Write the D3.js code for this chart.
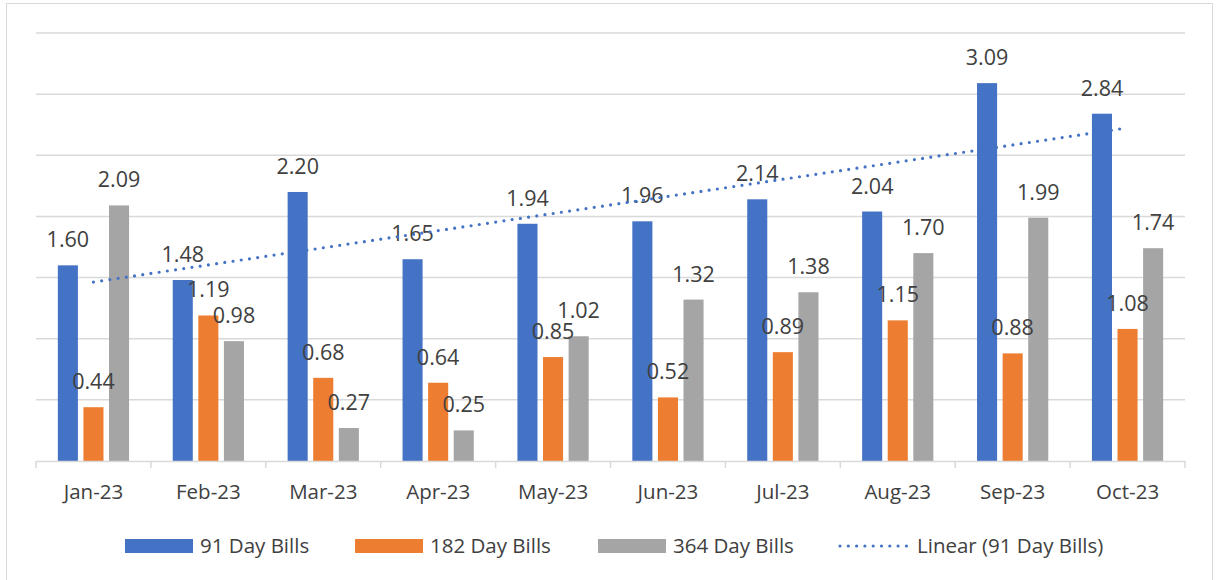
<!DOCTYPE html>
<html>
<head>
<meta charset="utf-8">
<script src="https://cdn.jsdelivr.net/npm/d3@7"></script>
<style>
	body{ margin:0; background:#fff; }
	text{ font-family:"Open Sans", sans-serif; fill:#404040; }
</style>
</head>
<body>
<div id="chart"></div>
<script>

const months = ["Jan-23","Feb-23","Mar-23","Apr-23","May-23","Jun-23","Jul-23","Aug-23","Sep-23","Oct-23"];
const bills91 = [1.60, 1.48, 2.20, 1.65, 1.94, 1.96, 2.14, 2.04, 3.09, 2.84];
const bills182 = [0.44, 1.19, 0.68, 0.64, 0.85, 0.52, 0.89, 1.15, 0.88, 1.08];
const bills364 = [2.09, 0.98, 0.27, 0.25, 1.02, 1.32, 1.38, 1.70, 1.99, 1.74];
const seriesNames = ["91 Day Bills", "182 Day Bills", "364 Day Bills"];
const yTicks = [0, 0.5, 1, 1.5, 2, 2.5, 3, 3.5];

const colors = ["#4472C4", "#ED7D31", "#A5A5A5"];
const W = 1219, H = 580;

const svg = d3.select("#chart")
		.append("svg")
		.attr("width", W)
		.attr("height", H);

// chart frame
svg.append("rect")
	.attr("x", 6.5).attr("y", 3.5)
	.attr("width", 1206).attr("height", 600)
	.attr("fill", "none")
	.attr("stroke", "#d9d9d9");

const x0 = d3.scaleBand()
		.domain(months)
		.range([36, 1185]);

const groupW = x0.bandwidth() * 0.62;
const x1 = d3.scaleBand()
		.domain(seriesNames)
		.range([(x0.bandwidth() - groupW) / 2, (x0.bandwidth() + groupW) / 2])
		.paddingInner(0.216);

const y = d3.scaleLinear()
		.domain([0, 3.5])
		.range([461, 33]);

// grid
svg.append("g")
	.selectAll("line")
	.data(yTicks.slice(1))
	.join("line")
		.attr("x1", 36).attr("x2", 1185)
		.attr("y1", d => y(d)).attr("y2", d => y(d))
		.attr("stroke", "#d9d9d9")
		.attr("stroke-width", 1.5);

const rows = months.map((m, i) => ({
	month: m,
	values: [bills91[i], bills182[i], bills364[i]]
}));

const groups = svg.append("g")
	.selectAll("g")
	.data(rows)
	.join("g")
		.attr("transform", d => "translate(" + x0(d.month) + ",0)");

groups.selectAll("rect")
	.data(d => d.values.map((v, k) => ({ key: seriesNames[k], v: v, k: k })))
	.join("rect")
		.attr("x", d => x1(d.key))
		.attr("y", d => y(d.v))
		.attr("width", x1.bandwidth())
		.attr("height", d => y(0) - y(d.v))
		.attr("fill", d => colors[d.k]);

// x axis
const xAxis = svg.append("g")
	.attr("transform", "translate(0," + y(0) + ")")
	.call(d3.axisBottom(x0).tickSize(0).tickPadding(23));
xAxis.select(".domain").attr("stroke", "#d9d9d9").attr("stroke-width", 1.5);
xAxis.selectAll("text")
	.style("font-size", "20.5px")
	.style("font-family", "'Open Sans', sans-serif")
	.attr("fill", "#404040");

const bounds = months.map(m => x0(m)).concat([x0.range()[1]]);
xAxis.selectAll(".sep")
	.data(bounds)
	.join("line")
		.attr("class", "sep")
		.attr("x1", d => d).attr("x2", d => d)
		.attr("y1", 0).attr("y2", 7)
		.attr("stroke", "#d9d9d9")
		.attr("stroke-width", 1.5);

// linear trend for 91 day bills
const n = bills91.length;
const xs = d3.range(1, n + 1);
const mx = d3.mean(xs), my = d3.mean(bills91);
const slope = d3.sum(xs, (xv, i) => (xv - mx) * (bills91[i] - my)) / d3.sum(xs, xv => (xv - mx) * (xv - mx));
const intercept = my - slope * mx;
const trendPts = [1, n].map(xv => [x0(months[xv - 1]) + x0.bandwidth() / 2, y(intercept + slope * xv)]);

svg.append("path")
	.attr("d", d3.line()(trendPts))
	.attr("fill", "none")
	.attr("stroke", "#4472C4")
	.attr("stroke-width", 3.2)
	.attr("stroke-linecap", "round")
	.attr("stroke-dasharray", "0 8.3");

// data labels
groups.selectAll("text.lbl")
	.data(d => d.values.map((v, k) => ({ key: seriesNames[k], v: v })))
	.join("text")
		.attr("class", "lbl")
		.attr("x", d => x1(d.key) + x1.bandwidth() / 2)
		.attr("y", d => y(d.v) - 18)
		.attr("text-anchor", "middle")
		.style("font-size", "21.5px")
		.text(d => d3.format(".2f")(d.v));

// legend
const legend = svg.append("g");
const legendItems = [
	{ label: "91 Day Bills", x: 125, type: "rect", color: colors[0] },
	{ label: "182 Day Bills", x: 355, type: "rect", color: colors[1] },
	{ label: "364 Day Bills", x: 598, type: "rect", color: colors[2] },
	{ label: "Linear (91 Day Bills)", x: 840, type: "line", color: colors[0] }
];
legendItems.forEach(it => {
	if( it.type === "rect" ){
		legend.append("rect")
			.attr("x", it.x).attr("y", 539)
			.attr("width", 68).attr("height", 14)
			.attr("fill", it.color);
	} else {
		legend.append("line")
			.attr("x1", it.x).attr("x2", it.x + 70)
			.attr("y1", 546).attr("y2", 546)
			.attr("stroke", it.color)
			.attr("stroke-width", 3.2)
			.attr("stroke-linecap", "round")
			.attr("stroke-dasharray", "0 8.3");
	}
	legend.append("text")
		.attr("x", it.x + (it.type === "rect" ? 75 : 77))
		.attr("y", 553)
		.style("font-size", "20.5px")
		.text(it.label);
});

</script>
</body>
</html>
